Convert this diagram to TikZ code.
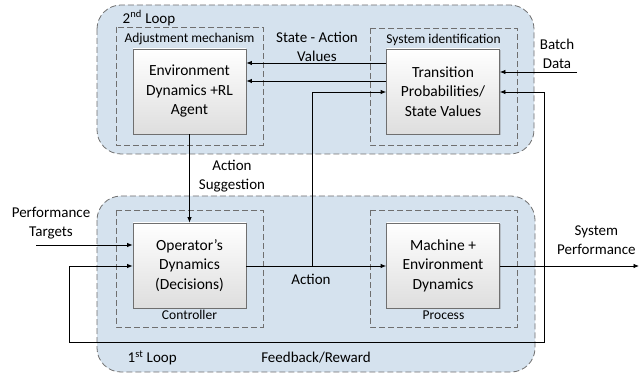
\documentclass[tikz,border=0pt]{standalone}
\usepackage{fontspec}
\setmainfont{Carlito}
\usetikzlibrary{arrows.meta,positioning,shadows}
\definecolor{loopblue}{HTML}{D5E2EE}
\definecolor{edgegray}{HTML}{6F6F6F}

\begin{document}
\begin{tikzpicture}[x=1pt, y=-1pt, >={Latex[length=5.5pt,width=4.5pt]},
  every path/.style={line width=0.8pt},
  loopbox/.style={draw=edgegray, dash pattern=on 6pt off 3pt, fill=loopblue, rounded corners=24pt},
  group/.style={draw=edgegray, dash pattern=on 6pt off 3pt},
  block/.style={draw=edgegray, top color=white, bottom color=black!13, drop shadow={shadow xshift=1pt, shadow yshift=-1pt, opacity=.35},
    align=center, minimum width=113pt, minimum height=85pt, font=\fontsize{15.5}{19.5}\selectfont},
  lbl/.style={align=center, font=\fontsize{15}{19.5}\selectfont},
  small/.style={font=\fontsize{13.5}{15}\selectfont}]
  \useasboundingbox (0,0) rectangle (639,379);
  % loops and groups
  \draw[loopbox] (97,5) rectangle (534,154);
  \draw[loopbox] (97,196) rectangle (535,372);
  \draw[group] (116,27) rectangle (263,145);
  \draw[group] (370,28) rectangle (517,145);
  \draw[group] (116,210) rectangle (263,327);
  \draw[group] (370,210) rectangle (517,327);
  \node[lbl, anchor=west] (loop2) at (119,18) {2\textsuperscript{nd} Loop};
  \node[lbl, anchor=west] (loop1) at (124,358) {1\textsuperscript{st} Loop};
  \node[small] (adj) at (189.5,39) {Adjustment mechanism};
  \node[small] (sysid) at (443.5,40) {System identification};
  \node[small] (ctrl) at (189.5,315) {Controller};
  \node[small] (proc) at (443.5,315) {Process};
  % blocks
  \node[block] (env) at (189.5,91.5) {Environment\\ Dynamics +RL\\ Agent};
  \node[block] (trans) at (443,91.5) {Transition\\ Probabilities/\\ State Values};
  \node[block] (oper) at (189.5,265.5) {Operator’s\\ Dynamics\\ (Decisions)};
  \node[block] (mach) at (443,265.5) {Machine +\\ Environment\\ Dynamics};
  % outside labels
  \node[lbl] (sav) at (317,47) {State - Action\\ Values};
  \node[lbl] (batch) at (557,54) {Batch\\ Data};
  \node[lbl] (sugg) at (232,176) {Action\\ Suggestion};
  \node[lbl] (perf) at (51,223) {Performance\\ Targets};
  \node[lbl, anchor=east, inner xsep=0pt] (sysperf) at (636,240) {System\\ Performance};
  \node[lbl] (act) at (311,279) {Action};
  \node[lbl] (fb) at (316,358) {Feedback/Reward};
  \coordinate (batchin) at (577,72);
  \coordinate (perfin) at (36,245);
  \coordinate (out) at (639,266);
  \coordinate (tap) at (312,266);
  \coordinate (fbtap) at (544,266);
  % connectors
  \draw[->] (trans.west |- 0,63) -- (env.east |- 0,63);
  \draw[->] (trans.west |- 0,81) -- (env.east |- 0,81);
  \draw[->] (tap) |- (trans.west |- 0,92);
  \draw[->] (batchin) -- (trans.east |- batchin);
  \draw[->] (env.south) -- (oper.north);
  \draw[->] (perfin) -- (oper.west |- perfin);
  \draw[->] (oper.east |- tap) -- (mach.west |- tap);
  \draw[->] (mach.east |- out) -- (out);
  \draw[->] (fbtap) |- (trans.east |- 0,92);
  \draw[->] (fbtap) -- (544,342) -| (69,266) -- (oper.west |- 0,266);
\end{tikzpicture}
\end{document}
